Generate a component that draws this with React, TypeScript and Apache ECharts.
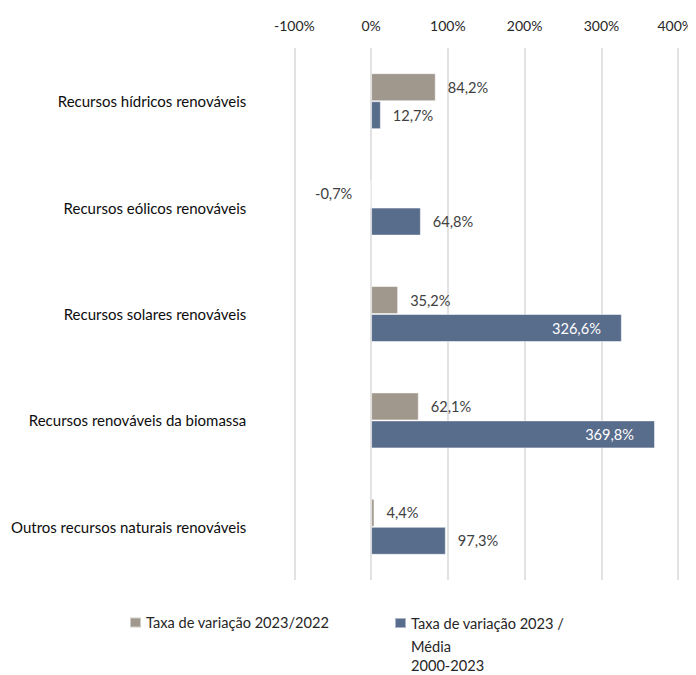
import React, { useEffect, useRef } from "react";
import * as echarts from "echarts";

const categories = [
  "Recursos hídricos renováveis",
  "Recursos eólicos renováveis",
  "Recursos solares renováveis",
  "Recursos renováveis da biomassa",
  "Outros recursos naturais renováveis",
];
const seriesNames = [
  "Taxa de variação 2023/2022",
  "Taxa de variação 2023 / Média 2000-2023",
];
const legendLines = ["Taxa de variação 2023 /", "Média", "2000-2023"];
const annualChange = [84.2, -0.7, 35.2, 62.1, 4.4];
const vsAverage = [12.7, 64.8, 326.6, 369.8, 97.3];
const axisTicks = { min: -100, max: 400, interval: 100 };

const FONT = "Lato, 'Open Sans', sans-serif";
const GRAY = "#A1988D";
const BLUE = "#586C8C";
const FS = 14.6;

const fmt = (v: number) => v.toFixed(1).replace(".", ",") + "%";

export default function App() {
  const ref = useRef<HTMLDivElement>(null);
  useEffect(() => {
    if (!ref.current) return;
    const chart = echarts.init(ref.current, null, { renderer: "svg" });
    chart.setOption({
      animation: false,
      textStyle: { fontFamily: FONT },
      grid: { left: 285, right: 16, top: 40, bottom: 95, containLabel: false },
      xAxis: {
        type: "value",
        position: "top",
        min: axisTicks.min,
        max: axisTicks.max,
        interval: axisTicks.interval,
        axisLine: { show: false },
        axisTick: { show: false },
        axisLabel: {
          formatter: (v: number) => (v === axisTicks.max ? `{r|${v}%}` : `${v}%`),
          color: "#262626",
          fontSize: 14,
          fontFamily: FONT,
          margin: 16,
          rich: {
            r: { fontSize: 14, fontFamily: FONT, color: "#262626", padding: [0, 6, 0, 0] },
          },
        },
        splitLine: { lineStyle: { color: "#D9D9D9", width: 1.5 } },
      },
      yAxis: {
        type: "category",
        inverse: true,
        data: categories,
        axisLine: { show: false },
        axisTick: { show: false },
        axisLabel: {
          color: "#0D0D0D",
          fontSize: 15,
          fontFamily: FONT,
          margin: 48,
        },
      },
      legend: [
        {
          data: [seriesNames[0]],
          left: 121,
          top: 603,
          padding: 0,
          itemWidth: 11,
          itemHeight: 10,
          itemGap: 4,
          icon: "rect",
          textStyle: { fontSize: FS, color: "#262626", fontFamily: FONT, lineHeight: 23 },
        },
        {
          data: [seriesNames[1]],
          left: 386,
          top: 564.5,
          padding: 0,
          itemWidth: 11,
          itemHeight: 10,
          icon: "rect",
          formatter: () =>
            `\n\n{a|${legendLines[0]}}\n{a|${legendLines[1]}}\n{b|${legendLines[2]}}`,
          textStyle: {
            fontSize: FS,
            color: "#262626",
            fontFamily: FONT,
            lineHeight: 19.5,
            rich: {
              a: { fontSize: FS, color: "#262626", fontFamily: FONT, lineHeight: 23 },
              b: { fontSize: FS, color: "#262626", fontFamily: FONT, lineHeight: 16 },
            },
          },
        },
      ],
      series: [
        {
          name: seriesNames[0],
          type: "bar",
          data: annualChange.map((v) => ({
            value: v,
            label: { position: v < 0 ? "left" : "right", distance: v < 0 ? 18 : 12 },
          })),
          barWidth: 28,
          barGap: "0%",
          itemStyle: { color: GRAY, borderColor: "rgba(255,255,255,0.5)", borderWidth: 1 },
          label: {
            show: true,
            formatter: (p: any) => fmt(p.value),
            color: "#404040",
            fontSize: FS,
            fontFamily: FONT,
          },
        },
        {
          name: seriesNames[1],
          type: "bar",
          data: vsAverage.map((v) =>
            v > 200
              ? { value: v, label: { position: "insideRight", distance: 21, color: "#FFFFFF" } }
              : { value: v, label: { position: "right", distance: 12, color: "#404040" } }
          ),
          barWidth: 28,
          barGap: "0%",
          itemStyle: { color: BLUE, borderColor: "rgba(255,255,255,0.5)", borderWidth: 1 },
          label: {
            show: true,
            formatter: (p: any) => fmt(p.value),
            fontSize: FS,
            fontFamily: FONT,
          },
        },
      ],
    });
    return () => chart.dispose();
  }, []);
  return <div ref={ref} style={{ width: 688, height: 667 }} />;
}
